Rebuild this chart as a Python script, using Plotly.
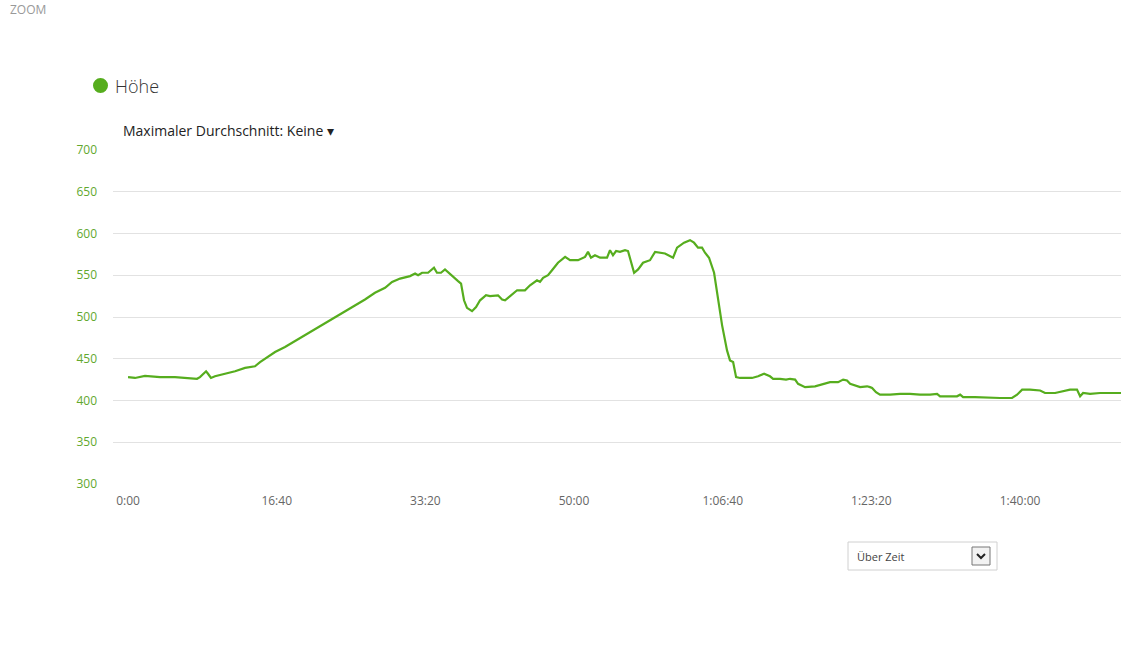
import plotly.graph_objects as go

# Elapsed time (seconds) and elevation (m)
time_s = [0, 47, 114, 215, 316, 417, 464, 484, 504, 525, 538, 558, 585, 652, 720, 787, 854, 888, 942, 989,
          1056, 1123, 1191, 1258, 1325, 1392, 1460, 1527, 1594, 1661, 1729, 1776, 1830, 1897, 1931, 1951, 1978,
          2018, 2058, 2078, 2105, 2132, 2179, 2220, 2240, 2260, 2280, 2314, 2341, 2368, 2395, 2408, 2435, 2489,
          2516, 2536, 2570, 2617, 2670, 2704, 2751, 2771, 2792, 2825, 2852, 2892, 2940, 2973, 3027, 3074, 3094,
          3114, 3141, 3175, 3222, 3242, 3262, 3283, 3309, 3343, 3363, 3383, 3404, 3431, 3464, 3511, 3545, 3612,
          3646, 3666, 3693, 3740, 3780, 3807, 3834, 3861, 3881, 3908, 3942, 3969, 3996, 4029, 4049, 4070, 4090,
          4117, 4150, 4197, 4238, 4278, 4318, 4339, 4386, 4426, 4453, 4487, 4507, 4554, 4621, 4688, 4722, 4776,
          4810, 4836, 4857, 4924, 4971, 4991, 5005, 5031, 5058, 5126, 5193, 5260, 5327, 5395, 5442, 5462, 5529,
          5576, 5597, 5617, 5697, 5798, 5866, 5946, 5980, 6014, 6067, 6135, 6168, 6236, 6303, 6336, 6383, 6404,
          6424, 6471, 6538, 6605, 6679]
elevation_m = [428, 427, 429.5, 428, 428, 427, 426, 428, 432, 435, 432, 427, 429, 432, 435, 439, 441, 446, 453, 458,
               464, 471, 478, 486, 493, 500, 507, 514, 521, 529, 535, 542, 546, 549, 552, 550, 553,
               553, 559, 553, 553, 557, 549, 543, 540, 520, 511, 507, 512, 520, 524, 526, 525, 526,
               521, 520, 525, 532, 532, 538, 544, 542, 547, 550, 556, 565, 572, 568, 568, 572, 578,
               571, 574, 571, 571, 580, 574, 579, 578, 580, 579, 565, 553, 557, 565, 568, 578, 576,
               573, 571, 583, 589, 592, 589, 583, 583, 577, 571, 553, 520, 490, 460, 448, 446, 428,
               427, 427, 427, 429, 432, 429, 426, 426, 425, 426, 425, 420, 416, 417, 420, 422, 422,
               425, 424, 420, 416, 417, 416, 415, 410, 407, 407, 408, 408, 407, 407, 408, 405, 405,
               405, 407, 404, 404, 403, 403, 403, 407, 413, 413, 412, 409, 409, 412, 413, 413, 405,
               409, 408, 409, 409, 409]

x_tickvals = [0, 1000, 2000, 3000, 4000, 5000, 6000]
x_ticktext = ["0:00", "16:40", "33:20", "50:00", "1:06:40", "1:23:20", "1:40:00"]
y_tickvals = [300, 350, 400, 450, 500, 550, 600, 650, 700]

LINE = "#56ad1e"
TICK_GREEN = "#62a82e"
FONT = "Open Sans"

fig = go.Figure()
fig.add_trace(go.Scatter(x=time_s, y=elevation_m, mode="lines",
                         line=dict(color=LINE, width=2.2), showlegend=False,
                         hoverinfo="skip"))

W, H = 1121, 668
L, R, T, B = 113, 0, 150, 184
pw, ph = W - L - R, H - T - B


def px(x):
    # page pixel x -> paper coordinate
    return (x - L) / pw


def py(y):
    # page pixel y -> paper coordinate
    return (H - B - y) / ph


fig.update_layout(
    width=W, height=H,
    margin=dict(l=L, r=R, t=T, b=B),
    paper_bgcolor="white", plot_bgcolor="white",
    font=dict(family=FONT, color="#333"),
    xaxis=dict(range=[-101, 6679], tickvals=x_tickvals, ticktext=x_ticktext,
               showgrid=False, zeroline=False, showline=False, ticks="",
               ticklabelstandoff=8,
               tickfont=dict(size=12, color="#666", family=FONT)),
    yaxis=dict(range=[300, 700], tickvals=y_tickvals, showgrid=True,
               gridcolor="#e2e2e2", gridwidth=1, zeroline=False, showline=False,
               ticks="", ticklabelstandoff=15,
               tickfont=dict(size=12, color=TICK_GREEN, family=FONT)),
)

annotations = [
    dict(x=px(8), y=1 + T / ph, xref="paper", yref="paper", text="ZOOM", showarrow=False,
         xanchor="left", yanchor="top", yshift=1, font=dict(size=12, color="#999", family=FONT)),
    dict(x=px(113), y=py(86), xref="paper", yref="paper", text="Höhe", showarrow=False,
         xanchor="left", yanchor="middle", font=dict(size=18, color="#333", family=FONT, weight=300)),
    dict(x=px(121), y=py(131), xref="paper", yref="paper",
         text="Maximaler Durchschnitt: Keine ▾", showarrow=False,
         xanchor="left", yanchor="middle", font=dict(size=14, color="#222", family=FONT)),
    dict(x=px(855), y=py(556), xref="paper", yref="paper", text="Über Zeit", showarrow=False,
         xanchor="left", yanchor="middle", font=dict(size=11, color="#444", family=FONT)),
]

shapes = [
    # legend dot
    dict(type="circle", xref="paper", yref="paper", x0=px(93), x1=px(108), y0=py(93), y1=py(78),
         fillcolor=LINE, line=dict(width=0)),
    # dropdown box
    dict(type="rect", xref="paper", yref="paper", x0=px(848), x1=px(997), y0=py(570), y1=py(542),
         fillcolor="white", line=dict(color="#d0d0d0", width=1), layer="below"),
    dict(type="rect", xref="paper", yref="paper", x0=px(972), x1=px(990), y0=py(565), y1=py(547),
         fillcolor="#f2f2f2", line=dict(color="#777", width=1)),
    dict(type="path", xref="paper", yref="paper",
         path=f"M {px(977)},{py(554)} L {px(981)},{py(558)} L {px(985)},{py(554)}",
         line=dict(color="#222", width=2)),
]

fig.update_layout(annotations=annotations, shapes=shapes)
fig.write_html("out.html", config={"displayModeBar": False},
               post_script="document.body.style.margin='0';document.body.style.overflow='hidden';")
